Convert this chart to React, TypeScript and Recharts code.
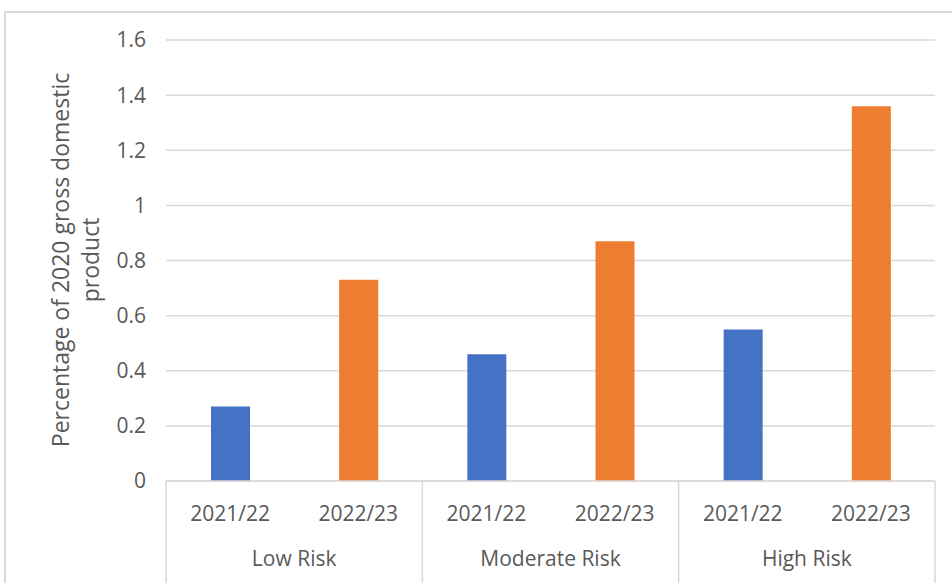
import { BarChart, Bar, XAxis, YAxis, CartesianGrid, Cell, Label } from 'recharts'

const groups = ['Low Risk', 'Moderate Risk', 'High Risk']
const years = ['2021/22', '2022/23']
const values2021 = [0.27, 0.46, 0.55]
const values2022 = [0.73, 0.87, 1.36]
const yTicks = [0, 0.2, 0.4, 0.6, 0.8, 1, 1.2, 1.4, 1.6]
const yearColors = ['#4472C4', '#ED7D31']

const data = groups.flatMap((group, i) =>
  years.map((year, j) => ({
    key: `${group}|${year}`,
    group,
    year,
    yearIndex: j,
    value: j === 0 ? values2021[i] : values2022[i],
  }))
)

const W = 952
const H = 583
const LEFT = 166
const RIGHT = 17
const TOP = 40
const PLOT_W = W - LEFT - RIGHT
const BAND = PLOT_W / data.length
const AXIS_Y = 481
const TEXT = '#595959'
const LINE = '#d9d9d9'
const FONT = "'Open Sans', sans-serif"

const YearTick = (props: any) => {
  const { x, index, payload } = props
  const row = data[index]
  const half = payload && payload.offset ? payload.offset : BAND / 2
  return (
    <g>
      {row.yearIndex === 0 && (
        <line x1={x - half} x2={x - half} y1={AXIS_Y} y2={H} stroke={LINE} strokeWidth={1.5} />
      )}
      {index === data.length - 1 && (
        <line x1={x + half} x2={x + half} y1={AXIS_Y} y2={H} stroke={LINE} strokeWidth={1.5} />
      )}
      <text x={x} y={AXIS_Y + 40} textAnchor="middle" fill={TEXT} fontSize={21} fontFamily={FONT}>
        {row.year}
      </text>
    </g>
  )
}

const GroupTick = (props: any) => {
  const { x, payload } = props
  return (
    <text x={x} y={AXIS_Y + 85} textAnchor="middle" fill={TEXT} fontSize={21} fontFamily={FONT}>
      {payload.value}
    </text>
  )
}

const YTitle = () => (
  <text transform="translate(69, 260) rotate(-90)" textAnchor="middle" fill={TEXT} fontSize={23} fontFamily={FONT}>
    <tspan x={0} dy={0}>Percentage of 2020 gross domestic</tspan>
    <tspan x={0} dy={30}>product</tspan>
  </text>
)

const App = () => {
  return (
    <div style={{ position: 'absolute', left: 0, top: 0, width: W, height: H, background: '#fff', overflow: 'hidden' }}>
      <div
        style={{
          position: 'absolute',
          left: 4,
          top: 11,
          width: W + 20,
          height: H + 20,
          border: '2px solid #d9d9d9',
        }}
      />
      <div style={{ position: 'absolute', left: 0, top: 0 }}>
        <BarChart width={W} height={H} data={data} margin={{ top: TOP, right: RIGHT, left: 46, bottom: 0 }}>
          <CartesianGrid vertical={false} stroke={LINE} strokeWidth={1.5} />
          <XAxis
            dataKey="key"
            height={60}
            interval={0}
            axisLine={{ stroke: LINE, strokeWidth: 1.5 }}
            tickLine={false}
            tick={<YearTick />}
          />
          <XAxis
            xAxisId="group"
            dataKey="group"
            allowDuplicatedCategory={false}
            height={42}
            interval={0}
            axisLine={false}
            tickLine={false}
            tick={<GroupTick />}
          />
          <YAxis
            width={LEFT - 46}
            domain={[0, 1.6]}
            ticks={yTicks}
            interval={0}
            axisLine={false}
            tickLine={false}
            tickMargin={14}
            tick={{ fill: TEXT, fontSize: 21, fontFamily: FONT }}
            tickFormatter={(v: number) => String(v)}
          >
            <Label content={<YTitle />} />
          </YAxis>
          <Bar dataKey="value" barSize={39} isAnimationActive={false}>
            {data.map((d) => (
              <Cell key={d.key} fill={yearColors[d.yearIndex]} />
            ))}
          </Bar>
        </BarChart>
      </div>
    </div>
  )
}

export default App
